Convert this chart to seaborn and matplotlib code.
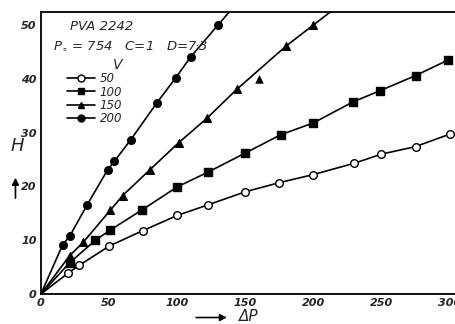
import numpy as np
import pandas as pd
import seaborn as sns
import matplotlib.pyplot as plt
from matplotlib.lines import Line2D
from matplotlib.ticker import MultipleLocator

# H against delta P for each voltage V
dp_50 = [20, 28, 50, 75, 100, 123, 150, 175, 200, 230, 250, 275, 300]
h_50 = [3.9, 5.3, 8.9, 11.8, 14.6, 16.6, 19.0, 20.7, 22.2, 24.3, 26.0, 27.4, 29.7]

dp_100 = [21, 40, 51, 74, 100, 123, 150, 176, 200, 229, 249, 275, 299]
h_100 = [5.8, 10.0, 11.9, 15.6, 19.9, 22.7, 26.2, 29.6, 31.8, 35.7, 37.8, 40.6, 43.5]

dp_150 = [21, 31, 51, 60, 80, 101, 122, 144, 180, 200]
h_150 = [7.1, 9.6, 15.6, 18.3, 23.1, 28.1, 32.7, 38.1, 46.1, 50.0]
# stray reading that sits off the 150 V curve
dp_150_off = [160]
h_150_off = [40.0]

dp_200 = [16, 21, 34, 49, 54, 66, 85, 99, 110, 130]
h_200 = [9.2, 10.7, 16.6, 23.1, 24.7, 28.7, 35.5, 40.2, 44.1, 50.0]

voltages = ["50", "100", "150", "200"]
series = [(dp_50, h_50), (dp_100, h_100), (dp_150, h_150), (dp_200, h_200)]
markers = ["o", "s", "^", "o"]
faces = ["white", "black", "black", "black"]

XMAX, YMAX = 304, 52.4

sns.set_style("white")
plt.rcParams["font.family"] = ["DejaVu Sans"]

fig = plt.figure(figsize=(4.55, 3.24), dpi=100)
ax = fig.add_axes([0.090, 0.0926, 0.910, 0.870])

for v, (xs, ys), m, fc in zip(voltages, series, markers, faces):
    # curves are drawn from the origin and run on to the frame
    lx = [0] + list(xs)
    ly = [0] + list(ys)
    if ys[-1] > 45:
        slope = (ys[-1] - ys[-2]) / (xs[-1] - xs[-2])
        lx.append(xs[-1] + (YMAX + 1 - ys[-1]) / slope)
        ly.append(YMAX + 1)
    line_df = pd.DataFrame({"dP": lx, "H": ly})
    sns.lineplot(data=line_df, x="dP", y="H", ax=ax, color="black",
                 linewidth=1.2, sort=False, estimator=None)
    pts = pd.DataFrame({"dP": xs, "H": ys})
    sns.scatterplot(data=pts, x="dP", y="H", ax=ax, marker=m, s=30,
                    facecolor=fc, edgecolor="black", linewidth=1.0, zorder=3)

sns.scatterplot(x=dp_150_off, y=h_150_off, ax=ax, marker="^", s=30,
                color="black", edgecolor="black", zorder=3)

ax.set_xlim(0, XMAX)
ax.set_ylim(0, YMAX)
ax.xaxis.set_major_locator(MultipleLocator(50))
ax.xaxis.set_minor_locator(MultipleLocator(10))
ax.yaxis.set_major_locator(MultipleLocator(10))
ax.tick_params(axis="both", which="both", direction="in", length=9,
               width=1.0, color="black")
ax.tick_params(axis="x", pad=3)
ax.tick_params(axis="y", pad=3)
for lab in ax.get_xticklabels() + ax.get_yticklabels():
    lab.set_fontstyle("italic")
    lab.set_fontweight("bold")
    lab.set_fontsize(8)
ax.set_xlabel("")
ax.set_ylabel("")

for side in ["left", "bottom", "top"]:
    ax.spines[side].set_visible(True)
    ax.spines[side].set_color("black")
    ax.spines[side].set_linewidth(1.3)
ax.spines["right"].set_visible(False)

handles = [Line2D([], [], color="black", lw=1.2, marker=m, markersize=5,
                  markerfacecolor=fc, markeredgecolor="black")
           for m, fc in zip(markers, faces)]
leg = ax.legend(handles, voltages, title="V", frameon=False,
                loc="upper left", bbox_to_anchor=(0.045, 0.862),
                handlelength=2.4, labelspacing=0.02, handletextpad=0.4,
                borderaxespad=0.2, prop={"style": "italic", "size": 8.5})
leg.get_title().set_fontstyle("italic")
leg.get_title().set_fontsize(10)
leg._legend_box.align = "right"

ax.text(0.07, 0.95, "PVA 2242", transform=ax.transAxes, fontsize=9.5,
        style="italic", va="center")
ax.text(0.03, 0.88, "P$_{\\circ}$ = 754   C=1   D=7·3", transform=ax.transAxes,
        fontsize=9.5, style="italic", va="center")

fig.text(0.037, 0.55, "H", fontsize=13, style="italic", ha="center", va="center")
ax.annotate("", xy=(0.034, 0.46), xytext=(0.034, 0.38),
            xycoords="figure fraction", textcoords="figure fraction",
            arrowprops=dict(arrowstyle="-|>", color="black", lw=1.2))
ax.annotate("", xy=(0.505, 0.02), xytext=(0.425, 0.02),
            xycoords="figure fraction", textcoords="figure fraction",
            arrowprops=dict(arrowstyle="-|>", color="black", lw=1.2))
fig.text(0.525, 0.022, "ΔP", fontsize=11, style="italic", ha="left", va="center")

fig.savefig("out.png", dpi=100)
